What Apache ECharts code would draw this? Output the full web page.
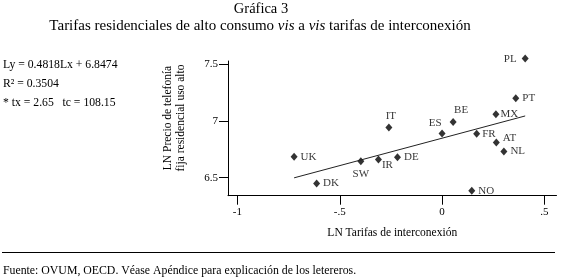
<!DOCTYPE html>
<html>
<head>
<meta charset="utf-8">
<script src="https://cdn.jsdelivr.net/npm/echarts@6/dist/echarts.min.js"></script>
<style>
  html, body { margin: 0; padding: 0; background: #fff; }
  #chart { width: 561px; height: 277px; }
</style>
</head>
<body>
<div id="chart"></div>
<script>
// datos
const countries = ['UK', 'DK', 'SW', 'IR', 'IT', 'DE', 'ES', 'BE', 'FR', 'NO', 'MX', 'AT', 'NL', 'PT', 'PL']
const lnTarifaInterconexion = [-0.723, -0.613, -0.397, -0.311, -0.26, -0.218, 0.0, 0.054, 0.169, 0.145, 0.263, 0.265, 0.302, 0.36, 0.406]
const lnPrecioTelefonia = [6.684, 6.45, 6.644, 6.661, 6.942, 6.679, 6.889, 6.989, 6.886, 6.386, 7.059, 6.81, 6.73, 7.199, 7.547]

const xTicks = [-1, -0.5, 0, 0.5]
const xTickLabels = ['-1', '-.5', '0', '.5']
const yTicks = [6.5, 7, 7.5]
const yTickLabels = ['6.5', '7', '7.5']

const slope = 0.4818
const intercept = 6.8474
const statLines = ['Ly = 0.4818Lx + 6.8474', 'R² = 0.3504', '* tx = 2.65   tc = 108.15']

const FONT = '"Liberation Serif", "Times New Roman", serif'

// posición de cada etiqueta
const labelPos = {
  PL: { position: 'left', distance: 5 },
  MX: { position: 'right', distance: 1 },
  BE: { position: 'top', distance: 2, offset: [8, 0] },
  ES: { position: 'top', distance: 2, offset: [-7, 1] },
  IT: { position: 'top', distance: 2, offset: [2, 0] },
  FR: { position: 'right', distance: 2 },
  AT: { position: 'right', distance: 3, offset: [0, -4] },
  IR: { position: 'right', distance: 0, offset: [0, 6] },
  SW: { position: 'bottom', distance: 3 }
}

const points = countries.map((c, i) => ({
  name: c,
  value: [lnTarifaInterconexion[i], lnPrecioTelefonia[i]],
  label: Object.assign({ position: 'right', distance: 3 }, labelPos[c] || {})
}))

// recta de regresión entre el mínimo y el máximo de x
const xMinData = Math.min(...lnTarifaInterconexion)
const xMaxData = Math.max(...lnTarifaInterconexion)
const fitLine = [xMinData, xMaxData].map(x => [x, slope * x + intercept])

const chart = echarts.init(document.getElementById('chart'))

chart.setOption({
  animation: false,
  backgroundColor: '#fff',
  textStyle: { fontFamily: FONT },
  grid: { left: 228, top: 61, right: 4.5, bottom: 81.3 },
  xAxis: {
    type: 'value',
    min: -1.046,
    max: 0.559,
    name: 'LN Tarifas de interconexión',
    nameLocation: 'middle',
    nameGap: 31,
    nameTextStyle: { fontFamily: FONT, fontSize: 11.5, color: '#000' },
    axisLine: { show: true, onZero: false, lineStyle: { color: '#000', width: 1 } },
    axisTick: { show: true, length: 9, customValues: xTicks, lineStyle: { color: '#000' } },
    axisLabel: {
      customValues: xTicks,
      margin: 11,
      fontFamily: FONT, fontSize: 11, color: '#000',
      formatter: v => xTickLabels[xTicks.indexOf(v)]
    },
    splitLine: { show: false }
  },
  yAxis: {
    type: 'value',
    min: 6.342,
    max: 7.526,
    axisLine: { show: true, onZero: false, lineStyle: { color: '#000', width: 1 } },
    axisTick: { show: true, length: 9, customValues: yTicks, lineStyle: { color: '#000' } },
    axisLabel: {
      customValues: yTicks,
      margin: 10,
      fontFamily: FONT, fontSize: 11, color: '#000',
      formatter: v => yTickLabels[yTicks.indexOf(v)]
    },
    splitLine: { show: false }
  },
  graphic: [
    {
      type: 'text', position: [261, 9],
      style: { text: 'Gráfica 3', align: 'center', verticalAlign: 'middle', fontFamily: FONT, fontSize: 14.5, fill: '#000' }
    },
    {
      type: 'text', position: [260, 26],
      style: {
        text: 'Tarifas residenciales de alto consumo {i|vis} a {i|vis} tarifas de interconexión',
        rich: { i: { fontStyle: 'italic', fontFamily: FONT, fontSize: 15 } },
        align: 'center', verticalAlign: 'middle',
        fontFamily: FONT, fontSize: 15, fill: '#000'
      }
    },
    ...statLines.map((t, i) => ({
      type: 'text', position: [3, 65 + i * 19],
      style: { text: t, align: 'left', verticalAlign: 'middle', fontFamily: FONT, fontSize: 11.7, fill: '#000' }
    })),
    {
      type: 'text', position: [174.5, 118], rotation: Math.PI / 2,
      style: {
        text: 'LN Precio de telefonía\nfija residencial uso alto',
        align: 'center', verticalAlign: 'middle', lineHeight: 13,
        fontFamily: FONT, fontSize: 11.5, fill: '#000'
      }
    },
    {
      type: 'line',
      shape: { x1: 2, y1: 252.5, x2: 555, y2: 252.5 },
      style: { stroke: '#000', lineWidth: 1.2 }
    },
    {
      type: 'text', position: [3, 271],
      style: {
        text: 'Fuente: OVUM, OECD. Véase Apéndice para explicación de los letereros.',
        align: 'left', verticalAlign: 'middle', fontFamily: FONT, fontSize: 11.8, fill: '#000'
      }
    }
  ],
  series: [
    {
      type: 'line',
      data: fitLine,
      symbol: 'none',
      silent: true,
      lineStyle: { color: '#222', width: 1 }
    },
    {
      type: 'scatter',
      data: points,
      symbol: 'diamond',
      symbolSize: [7, 8],
      clip: false,
      itemStyle: { color: '#000' },
      label: {
        show: true,
        formatter: p => p.name,
        fontFamily: FONT, fontSize: 11, color: '#000'
      }
    }
  ]
})
</script>
</body>
</html>
